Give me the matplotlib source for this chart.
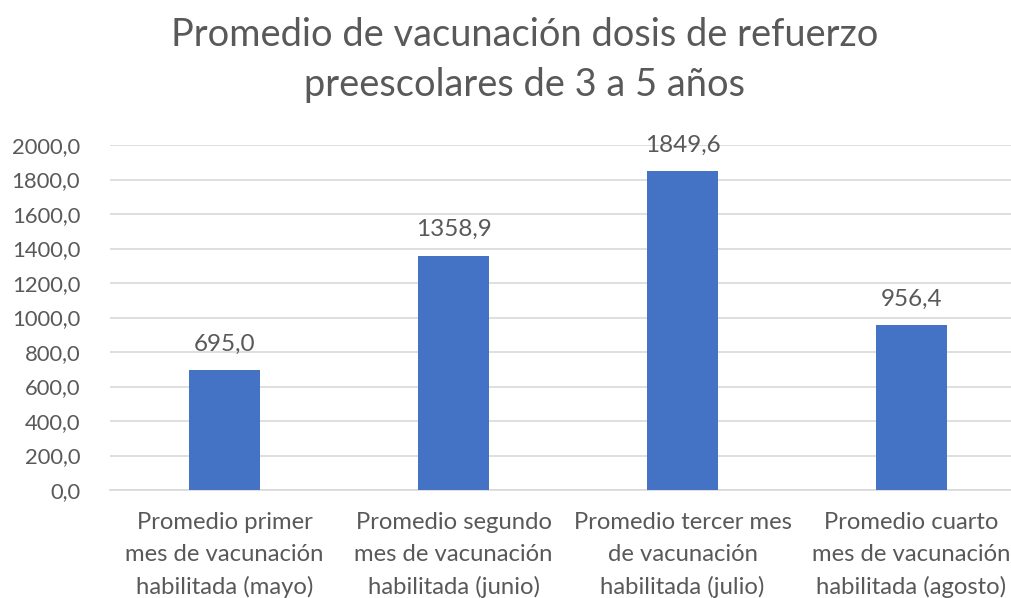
import matplotlib.pyplot as plt

plt.rcParams['font.family'] = ['Lato', 'DejaVu Sans']

categories = [
    "Promedio primer\nmes de vacunación\nhabilitada (mayo)",
    "Promedio segundo\nmes de vacunación\nhabilitada (junio)",
    "Promedio tercer mes\nde vacunación\nhabilitada (julio)",
    "Promedio cuarto\nmes de vacunación\nhabilitada (agosto)",
]
values = [695.0, 1358.9, 1849.6, 956.4]
yticks = [0, 200, 400, 600, 800, 1000, 1200, 1400, 1600, 1800, 2000]

text_color = "#595959"
bar_color = "#4472C4"

fig = plt.figure(figsize=(10.11, 5.98), dpi=100)
ax = fig.add_axes([110 / 1011, 108 / 598, 916 / 1011, 345 / 598])

x = range(len(values))
ax.bar(x, values, width=0.31, color=bar_color, zorder=3)

for xi, v in zip(x, values):
    ax.annotate(f"{v:.1f}".replace(".", ","), (xi, v), xytext=(0, 11),
                textcoords="offset points", ha="center", va="bottom",
                fontsize=17.5, color=text_color)

ax.set_xlim(-0.5, len(values) - 0.5)
ax.set_ylim(0, 2000)
ax.set_yticks(yticks)
ax.set_yticklabels([f"{t:.1f}".replace(".", ",") for t in yticks],
                   fontsize=15.8, color=text_color)
ax.set_xticks(list(x))
ax.set_xticklabels(categories, fontsize=17.2, color=text_color, linespacing=1.62)
ax.tick_params(axis="both", length=0)
ax.tick_params(axis="x", pad=16)
ax.tick_params(axis="y", pad=21.5)

ax.grid(axis="y", color="#d9d9d9", linewidth=1.2, zorder=0)
for side in ["top", "right", "left"]:
    ax.spines[side].set_visible(False)
ax.spines["bottom"].set_color("#d9d9d9")
ax.spines["bottom"].set_linewidth(1.2)

fig.text(525 / 1011, 1 - 60 / 598,
         "Promedio de vacunación dosis de refuerzo\npreescolares de 3 a 5 años",
         ha="center", va="center", fontsize=27.4, color=text_color, linespacing=1.5)

fig.savefig("out.png", dpi=100)
